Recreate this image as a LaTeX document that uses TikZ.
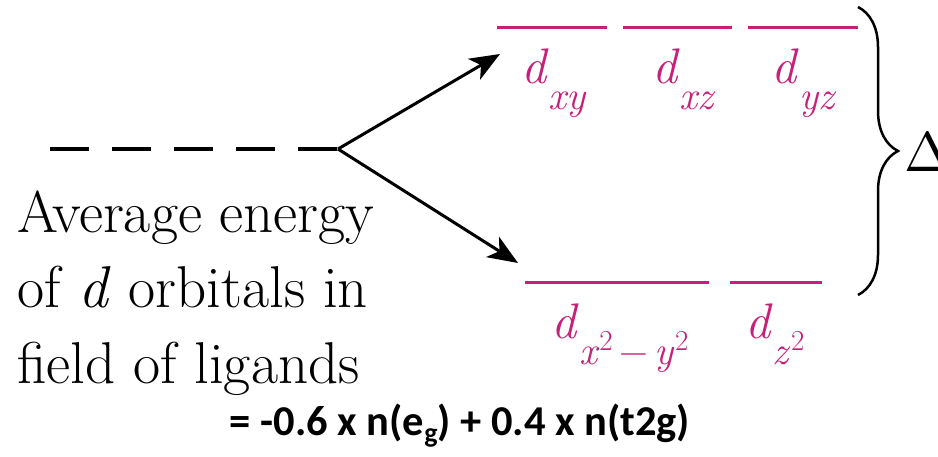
\documentclass[tikz,border=0pt]{standalone}
\usepackage{fontspec}
\usepackage{graphicx}
\newfontfamily\lmr{Latin Modern Roman}
\newfontfamily\calib{Carlito}
\usetikzlibrary{arrows.meta,decorations.pathreplacing}
\definecolor{orbmag}{RGB}{200,32,120}
\newcommand{\subsz}{\fontsize{40}{40}\selectfont}
\newcommand{\supsz}{\fontsize{29}{29}\selectfont}
\newcommand{\dsub}[1]{\textit{d}\raisebox{-26pt}{\subsz #1}}
\tikzset{
  lvl/.style={draw=orbmag, line width=3pt},
  dashline/.style={line width=4pt, dash pattern=on 39pt off 23pt},
  arr/.style={line width=3pt, -{Stealth[length=30pt,width=24pt,inset=8pt]}},
  orblabel/.style={anchor=base, inner sep=0pt, text=orbmag, font=\lmr\fontsize{50}{50}\selectfont},
  bigtext/.style={anchor=base west, inner sep=0pt, font=\lmr\fontsize{59}{59}\selectfont},
  bracestyle/.style={line width=2.5pt, decorate, decoration={brace, amplitude=40pt}}
}
\begin{document}
\begin{tikzpicture}[x=1pt,y=-1pt]
\useasboundingbox (0,0) rectangle (938,457);
% average energy level
\coordinate (dstart) at (50,149);
\coordinate (avg) at (338,149);
\draw[dashline] (dstart) -- (avg);
% upper levels
\coordinate (xyL) at (497,28);  \coordinate (xyR) at (607,28);
\coordinate (xzL) at (623,28);  \coordinate (xzR) at (732,28);
\coordinate (yzL) at (748,28);  \coordinate (yzR) at (858,28);
\draw[lvl] (xyL) -- (xyR);
\draw[lvl] (xzL) -- (xzR);
\draw[lvl] (yzL) -- (yzR);
% lower levels
\coordinate (x2L) at (525,283); \coordinate (x2R) at (709,283);
\coordinate (z2L) at (730,283); \coordinate (z2R) at (822,283);
\draw[lvl] (x2L) -- (x2R);
\draw[lvl] (z2L) -- (z2R);
% arrows
\coordinate (tup) at (500,54);
\coordinate (tdown) at (518,263);
\draw[arr] (avg) -- (tup);
\draw[arr] (avg) -- (tdown);
% orbital labels
\node[orblabel] (lxy) at (554,84) {\dsub{\textit{xy}}};
\node[orblabel] (lxz) at (684,84) {\dsub{\textit{xz}}};
\node[orblabel] (lyz) at (804,84) {\dsub{\textit{yz}}};
\node[orblabel] (lx2y2) at (620,339) {\textit{d}\raisebox{-26pt}{\subsz\textit{x}\raisebox{14pt}{\supsz 2}\,−\,\textit{y}\raisebox{14pt}{\supsz 2}}};
\node[orblabel] (lz2) at (775,339) {\textit{d}\raisebox{-26pt}{\subsz\textit{z}\raisebox{14pt}{\supsz 2}}};
% brace and Delta
\coordinate (btop) at (858,7);
\coordinate (bbot) at (858,295);
\draw[bracestyle] (btop) -- (bbot);
\node[anchor=base west, inner sep=0pt] (delta) at (904,172) {\scalebox{5.6}{$\Delta$}};
% explanatory text
\node[bigtext] (t1) at (17,233) {Average energy};
\node[bigtext] (t2) at (17,308) {of \textit{d} orbitals in};
\node[bigtext] (t3) at (17,383) {field of ligands};
% formula
\node[anchor=base, inner sep=0pt, font=\calib\bfseries\fontsize{42.5}{42.5}\selectfont] (formula) at (460,435)
  {= -0.6 x n(e\raisebox{-8pt}{\fontsize{28}{28}\selectfont g}) + 0.4 x n(t2g)};
\end{tikzpicture}
\end{document}
